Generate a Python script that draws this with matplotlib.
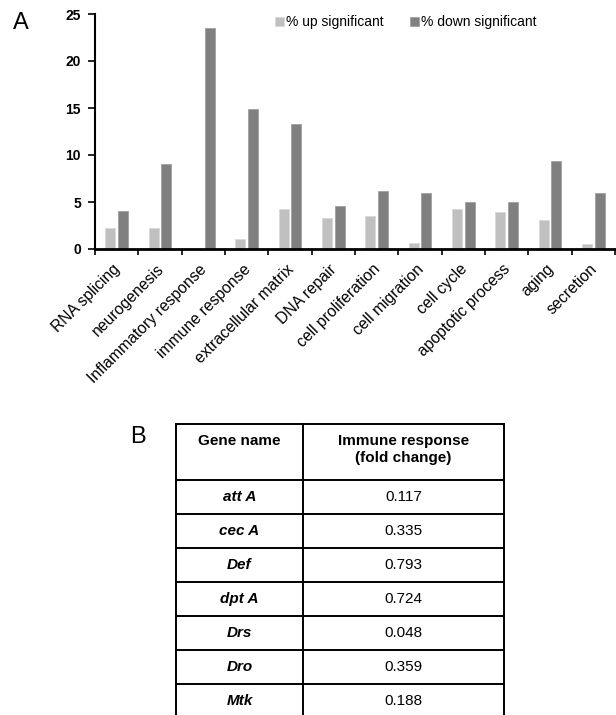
import numpy as np
import matplotlib
matplotlib.use("Agg")
import matplotlib.pyplot as plt
import matplotlib.transforms as mtransforms

plt.rcParams['font.family'] = ['Liberation Sans', 'DejaVu Sans']

# Panel A data
categories = ["RNA splicing", "neurogenesis", "Inflammatory response", "immune response",
              "extracellular matrix", "DNA repair", "cell proliferation", "cell migration",
              "cell cycle", "apoptotic process", "aging", "secretion"]
up_sig = [2.2, 2.2, 0.0, 1.1, 4.3, 3.3, 3.5, 0.6, 4.3, 3.9, 3.05, 0.5]
down_sig = [4.0, 9.0, 23.5, 14.9, 13.3, 4.55, 6.2, 6.0, 5.0, 5.0, 9.4, 6.0]
y_ticks = [0, 5, 10, 15, 20, 25]

# Panel B data
table_headers = ["Gene name", "Immune response\n(fold change)"]
gene_names = ["att A", "cec A", "Def", "dpt A", "Drs", "Dro", "Mtk"]
fold_changes = ["0.117", "0.335", "0.793", "0.724", "0.048", "0.359", "0.188"]

W, H = 616, 715
fig = plt.figure(figsize=(W / 100, H / 100), dpi=100)


def px_axes(x0, y0, x1, y1):
    """axes from pixel box (top-left origin)"""
    return fig.add_axes([x0 / W, 1 - y1 / H, (x1 - x0) / W, (y1 - y0) / H])


# ---- Panel A: grouped bars ----
ax = px_axes(95, 14, 615, 249)
x = np.arange(len(categories)) + 0.5
bw = 0.23
ax.bar(x - 0.145, up_sig, bw, color="#c0c0c0", edgecolor="#d8d8d8", linewidth=0.6,
       label="% up significant")
ax.bar(x + 0.145, down_sig, bw, color="#808080", edgecolor="#a0a0a0", linewidth=0.6,
       label="% down significant")

ax.set_xlim(0, len(categories))
ax.set_ylim(0, 25)
ax.set_yticks(y_ticks)
ax.set_yticklabels([str(t) for t in y_ticks], fontsize=10, fontweight='bold')
ax.tick_params(axis='y', length=5, width=1.2, pad=5)

ax.set_xticks(np.arange(len(categories) + 1), minor=True)
ax.set_xticks(x)
ax.set_xticklabels(categories, rotation=45, ha='right', va='top',
                   rotation_mode='anchor', fontsize=11.3)
ax.tick_params(axis='x', which='major', length=0, pad=9)
ax.tick_params(axis='x', which='minor', length=4, width=1.2)
shift = mtransforms.ScaledTranslation(-4 / 100, 0, fig.dpi_scale_trans)
for lab in ax.get_xticklabels():
    lab.set_transform(lab.get_transform() + shift)

for s in ["top", "right"]:
    ax.spines[s].set_visible(False)
ax.spines["left"].set_linewidth(1.5)
ax.spines["bottom"].set_linewidth(2)

fig.legend(loc='center', bbox_to_anchor=(0.659, 0.969), ncol=2, frameon=False,
           fontsize=10, handlelength=0.65, handleheight=0.65, handletextpad=0.15,
           columnspacing=1.9)

fig.text(13 / W, 1 - 23 / H, "A", fontsize=17, ha='left', va='center')
fig.text(130 / W, 1 - 437 / H, "B", fontsize=17, ha='left', va='center')

# ---- Panel B: table ----
tx = px_axes(176, 424, 504, 718)
tx.set_xlim(0, 328)
tx.set_ylim(294, 0)
tx.axis('off')

col_x = [0, 127, 328]
header_h = 56
row_h = 34
row_y = [0, header_h] + [header_h + row_h * (i + 1) for i in range(len(gene_names))]

lw = 1.4
for yy in row_y:
    tx.plot([0, 328], [yy, yy], color='black', lw=lw, clip_on=False, solid_capstyle='projecting')
for xx in col_x:
    tx.plot([xx, xx], [0, row_y[-1]], color='black', lw=lw, clip_on=False)

for j, head in enumerate(table_headers):
    cx = (col_x[j] + col_x[j + 1]) / 2
    tx.text(cx, 10, head, ha='center', va='top', fontsize=11, fontweight='bold',
            linespacing=1.3)

for i, (g, v) in enumerate(zip(gene_names, fold_changes)):
    cy = (row_y[i + 1] + row_y[i + 2]) / 2
    tx.text((col_x[0] + col_x[1]) / 2, cy, g, ha='center', va='center', fontsize=11,
            fontweight='bold', fontstyle='italic')
    tx.text((col_x[1] + col_x[2]) / 2, cy, v, ha='center', va='center', fontsize=11)

fig.savefig("out.png", dpi=100)
